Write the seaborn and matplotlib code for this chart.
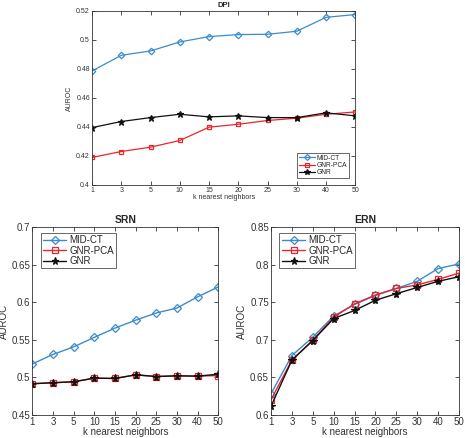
import matplotlib
matplotlib.use("Agg")
import matplotlib.pyplot as plt
import seaborn as sns
import pandas as pd

k_labels = ["1", "3", "5", "10", "15", "20", "25", "30", "40", "50"]
methods = ["MID-CT", "GNR-PCA", "GNR"]

dpi_mid = [0.4786, 0.4894, 0.4924, 0.4986, 0.5023, 0.5037, 0.5039, 0.5060, 0.5156, 0.5175]
dpi_pca = [0.4189, 0.4230, 0.4260, 0.4306, 0.4398, 0.4418, 0.4444, 0.4460, 0.4487, 0.4503]
dpi_gnr = [0.4395, 0.4437, 0.4464, 0.4487, 0.4469, 0.4476, 0.4464, 0.4464, 0.4497, 0.4476]

srn_mid = [0.5179, 0.5306, 0.5406, 0.5533, 0.5656, 0.5761, 0.5857, 0.5923, 0.6072, 0.6203]
srn_pca = [0.4916, 0.4929, 0.4942, 0.4990, 0.4986, 0.5034, 0.5012, 0.5021, 0.5017, 0.5025]
srn_gnr = [0.4916, 0.4929, 0.4942, 0.4990, 0.4986, 0.5034, 0.5012, 0.5021, 0.5017, 0.5043]

ern_mid = [0.6283, 0.6791, 0.7035, 0.7317, 0.7470, 0.7590, 0.7683, 0.7778, 0.7948, 0.8009]
ern_pca = [0.6204, 0.6730, 0.6996, 0.7300, 0.7478, 0.7596, 0.7683, 0.7730, 0.7804, 0.7887]
ern_gnr = [0.6117, 0.6729, 0.6990, 0.7283, 0.7390, 0.7526, 0.7613, 0.7696, 0.7778, 0.7839]

sns.set_style("ticks")
plt.rcParams['font.family'] = ['Liberation Sans', 'DejaVu Sans']

colors = {"MID-CT": "#3a8ccc", "GNR-PCA": "#e8262b", "GNR": "#111111"}
markers = {"MID-CT": "D", "GNR-PCA": "s", "GNR": "*"}


def make_df(mid, pca, gnr):
    rows = []
    for name, vals in zip(methods, [mid, pca, gnr]):
        for i, v in enumerate(vals):
            rows.append({"k": i, "AUROC": v, "method": name})
    return pd.DataFrame(rows)


fig = plt.figure(figsize=(4.65, 4.38), dpi=100)
ax_top = fig.add_axes([0.198, 0.578, 0.566, 0.397])
ax_bl = fig.add_axes([0.0695, 0.0525, 0.400, 0.4292])
ax_br = fig.add_axes([0.5828, 0.0525, 0.4043, 0.4292])


def draw(ax, df, title, ylim, yticks, yticklabels, fs, ms, legend_loc, leg_fs, lw):
    for name in methods:
        sub = df[df.method == name]
        filled = name == "GNR"
        sns.lineplot(data=sub, x="k", y="AUROC", ax=ax, color=colors[name],
                     marker=markers[name], markersize=ms * (1.4 if filled else 1.0),
                     markerfacecolor=colors[name] if filled else "none",
                     markeredgecolor=colors[name], markeredgewidth=0.9,
                     linewidth=lw, label=name, legend=True)
    ax.set_xlim(0, 9)
    ax.set_ylim(*ylim)
    ax.set_xticks(range(10))
    ax.set_xticklabels(k_labels)
    ax.set_yticks(yticks)
    ax.set_yticklabels(yticklabels)
    ax.tick_params(direction="in", top=True, right=True, labelsize=fs,
                   colors="#333333", length=3, width=0.6, pad=1.5)
    for s in ax.spines.values():
        s.set_linewidth(0.6)
        s.set_color("#333333")
    ax.set_xlabel("k nearest neighbors", fontsize=fs, color="#333333", labelpad=0)
    ax.set_ylabel("AUROC", fontsize=fs, color="#333333", labelpad=2)
    ax.set_title(title, fontsize=fs + 0.5, fontweight="bold", pad=3)
    leg = ax.legend(loc=legend_loc, fontsize=leg_fs, frameon=True, fancybox=False,
                    edgecolor="#222222", borderpad=0.25, handlelength=2.4,
                    labelspacing=0.05, handletextpad=0.3, borderaxespad=0.0,
                    markerscale=0.9)
    leg.get_frame().set_linewidth(0.6)


draw(ax_top, make_df(dpi_mid, dpi_pca, dpi_gnr), "DPI", (0.4, 0.52),
     [0.4, 0.42, 0.44, 0.46, 0.48, 0.5, 0.52],
     ["0.4", "0.42", "0.44", "0.46", "0.48", "0.5", "0.52"], 5, 3.3,
     "lower right", 4.8, 0.9)
ax_top.get_legend().set_bbox_to_anchor((0.975, 0.04))

draw(ax_bl, make_df(srn_mid, srn_pca, srn_gnr), "SRN", (0.45, 0.7),
     [0.45, 0.5, 0.55, 0.6, 0.65, 0.7],
     ["0.45", "0.5", "0.55", "0.6", "0.65", "0.7"], 7, 4.2,
     "upper left", 7, 1.0)
ax_bl.get_legend().set_bbox_to_anchor((0.045, 0.97))

draw(ax_br, make_df(ern_mid, ern_pca, ern_gnr), "ERN", (0.6, 0.85),
     [0.6, 0.65, 0.7, 0.75, 0.8, 0.85],
     ["0.6", "0.65", "0.7", "0.75", "0.8", "0.85"], 7, 4.2,
     "upper left", 7, 1.0)
ax_br.get_legend().set_bbox_to_anchor((0.045, 0.97))

fig.savefig("out.png", dpi=100)
